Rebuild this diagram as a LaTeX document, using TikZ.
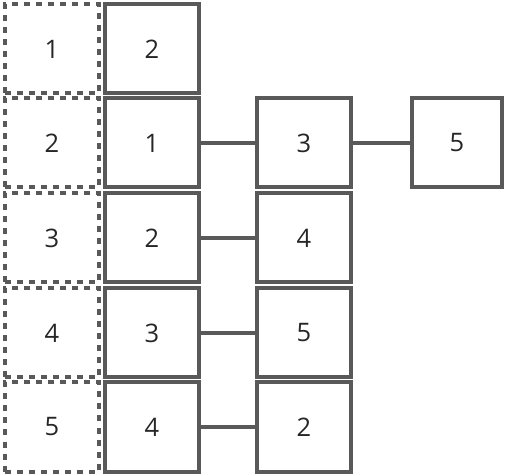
\documentclass[tikz,border=0pt]{standalone}
\usepackage{fontspec}
\setmainfont{Open Sans}
\begin{document}
\begin{tikzpicture}[x=1pt,y=-1pt,
  box/.style={draw=linegray,line width=4pt,minimum width=94pt,minimum height=89pt,inner sep=0pt,text=textgray,font=\fontsize{25.5}{28}\selectfont},
  dbox/.style={box,dash pattern=on 6pt off 6pt},
  link/.style={draw=linegray,line width=3.5pt}]
\definecolor{linegray}{HTML}{595959}
\definecolor{textgray}{HTML}{262626}
\useasboundingbox (0,0) rectangle (507,476);
\node[dbox] (d1) at (52,49) {1};
\node[dbox] (d2) at (52,143) {2};
\node[dbox] (d3) at (52,238) {3};
\node[dbox] (d4) at (52,333) {4};
\node[dbox] (d5) at (52,427) {5};
\node[box] (a1) at (152,49) {2};
\node[box] (a2) at (152,143) {1};
\node[box] (a3) at (152,238) {2};
\node[box] (a4) at (152,333) {3};
\node[box] (a5) at (152,427) {4};
\node[box] (b2) at (304,143) {3};
\node[box] (b3) at (304,238) {4};
\node[box] (b4) at (304,333) {5};
\node[box] (b5) at (304,427) {2};
\node[box,minimum width=90pt] (c2) at (457,143) {5};
\draw[link] (a2) -- (b2);
\draw[link] (b2) -- (c2);
\draw[link] (a3) -- (b3);
\draw[link] (a4) -- (b4);
\draw[link] (a5) -- (b5);
\end{tikzpicture}
\end{document}
